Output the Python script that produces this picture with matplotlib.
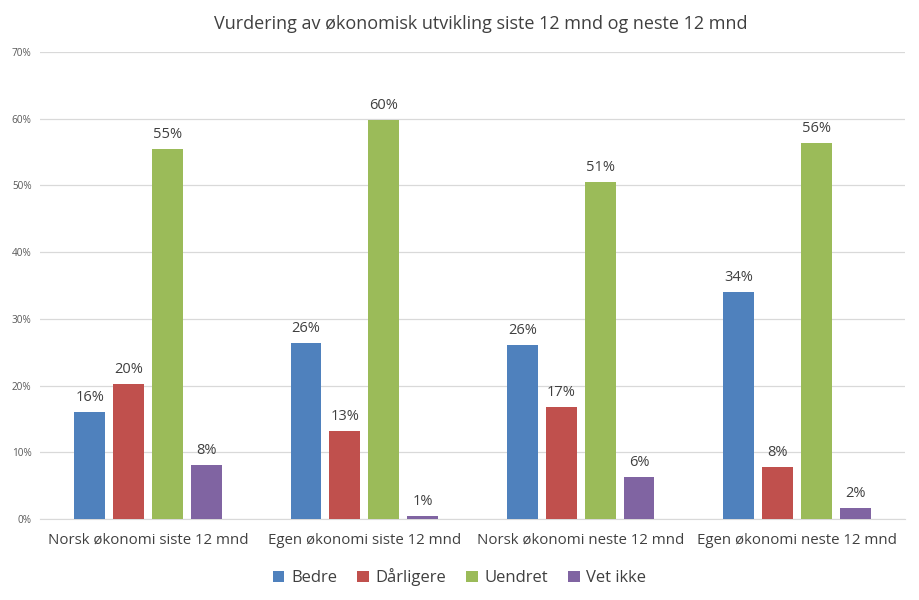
import numpy as np
import matplotlib.pyplot as plt

plt.rcParams['font.family'] = ['Open Sans', 'DejaVu Sans']

categories = ['Norsk økonomi siste 12 mnd', 'Egen økonomi siste 12 mnd',
              'Norsk økonomi neste 12 mnd', 'Egen økonomi neste 12 mnd']
series = ['Bedre', 'Dårligere', 'Uendret', 'Vet ikke']
bedre = [16.1, 26.4, 26.1, 34.0]
darligere = [20.2, 13.2, 16.8, 7.8]
uendret = [55.4, 59.8, 50.5, 56.4]
vet_ikke = [8.1, 0.5, 6.3, 1.6]
labels = [['16%', '26%', '26%', '34%'],
          ['20%', '13%', '17%', '8%'],
          ['55%', '60%', '51%', '56%'],
          ['8%', '1%', '6%', '2%']]
colors = ['#4F81BD', '#C0504D', '#9BBB59', '#8064A2']

fig = plt.figure(figsize=(9.19, 6.0), dpi=100)
ax = fig.add_axes([40 / 919, 81 / 600, 865 / 919, 467 / 600])

x = np.arange(len(categories))
width = 0.143
step = 0.18
for i, (vals, name) in enumerate(zip([bedre, darligere, uendret, vet_ikke], series)):
    pos = x + (i - 1.5) * step
    bars = ax.bar(pos, vals, width, color=colors[i], label=name, zorder=3)
    for b, lab in zip(bars, labels[i]):
        ax.annotate(lab, (b.get_x() + b.get_width() / 2, b.get_height()),
                    textcoords='offset points', xytext=(0, 5), ha='center',
                    va='bottom', fontsize=10.5, color='#404040')

ax.set_xlim(-0.5, 3.5)
ax.set_ylim(0, 70)
ax.set_yticks(range(0, 71, 10))
ax.set_yticklabels([f'{v}%' for v in range(0, 71, 10)], fontsize=7.2, color='#595959')
ax.set_xticks(x)
ax.set_xticklabels(categories, fontsize=10.8, color='#404040')
ax.tick_params(axis='both', length=0)
ax.tick_params(axis='x', pad=10)
ax.tick_params(axis='y', pad=6)
ax.grid(axis='y', color='#D9D9D9', linewidth=0.9, zorder=0)
for s in ['top', 'right', 'left']:
    ax.spines[s].set_visible(False)
ax.spines['bottom'].set_color('#D9D9D9')

fig.suptitle('Vurdering av økonomisk utvikling siste 12 mnd og neste 12 mnd',
             x=0.523, y=0.975, fontsize=13, color='#404040')
fig.legend(loc='center', bbox_to_anchor=(0.5, 0.038), ncol=4, frameon=False,
           fontsize=12, handlelength=0.7, handleheight=0.7, handletextpad=0.4,
           columnspacing=1.2, labelcolor='#404040')

fig.savefig('out.png', dpi=100)
